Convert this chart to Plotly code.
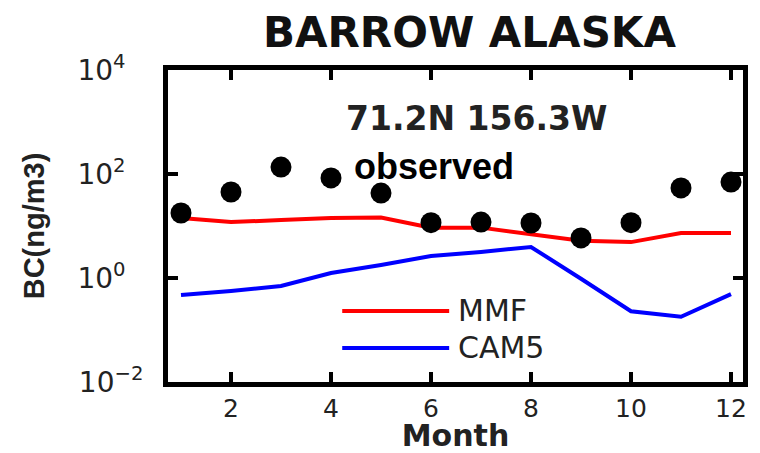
import plotly.graph_objects as go

# ---- data ----
months = list(range(1, 13))
observed = [17.8, 45, 136, 84, 43, 11.6, 11.9, 11.4, 5.9, 11.6, 54, 70]
mmf = [14.3, 11.9, 13.0, 14.3, 14.6, 9.3, 9.3, 7.0, 5.2, 4.9, 7.3, 7.3]
cam5 = [0.47, 0.56, 0.70, 1.25, 1.78, 2.65, 3.16, 3.95, 0.97, 0.23, 0.18, 0.49]

xtick_vals = [2, 4, 6, 8, 10, 12]
ytick_vals = [0.01, 1, 100, 10000]
ytick_text = ["10<sup>\u22122</sup>", "10<sup>0</sup>\u00a0\u00a0", "10<sup>2</sup>\u00a0\u00a0", "10<sup>4</sup>\u00a0\u00a0"]

title_text = "BARROW ALASKA"
site_text = "71.2N 156.3W"
obs_text = "observed"
legend_names = ["MMF", "CAM5"]
legend_colors = ["#ff0000", "#0000ff"]

fig = go.Figure()
fig.add_trace(go.Scatter(x=months, y=mmf, mode="lines", name="MMF",
                         line=dict(color="#ff0000", width=4), showlegend=False))
fig.add_trace(go.Scatter(x=months, y=cam5, mode="lines", name="CAM5",
                         line=dict(color="#0000ff", width=4), showlegend=False))
fig.add_trace(go.Scatter(x=months, y=observed, mode="markers", name="observed",
                         marker=dict(color="black", size=21, line=dict(width=0)),
                         showlegend=False))

L, R, T, B = 168, 17, 70, 71

fig.update_layout(
    width=760, height=453,
    margin=dict(l=L, r=R, t=T, b=B, autoexpand=False),
    paper_bgcolor="white", plot_bgcolor="white",
    font=dict(family="DejaVu Sans", color="black"),
    showlegend=False,
)

fig.update_xaxes(
    range=[0.74, 12.24], tickvals=xtick_vals, ticktext=[str(v) for v in xtick_vals],
    ticks="inside", ticklen=10, tickwidth=4, tickcolor="black",
    showline=True, linewidth=5, linecolor="black", mirror="ticks",
    showgrid=False, zeroline=False, ticklabelstandoff=0,
    tickfont=dict(family="DejaVu Sans", size=25, color="#222"),
    title=dict(text="<b>Month</b>", font=dict(family="DejaVu Sans", size=30, color="#222"), standoff=10),
)
fig.update_yaxes(
    type="log", range=[-2, 4], tickvals=ytick_vals, ticktext=ytick_text,
    ticks="inside", ticklen=10, tickwidth=4, tickcolor="black",
    showline=True, linewidth=5, linecolor="black", mirror="ticks",
    showgrid=False, zeroline=False, ticklabelstandoff=14,
    tickfont=dict(family="DejaVu Sans", size=28, color="#222"),
    title=dict(text="<b>BC(ng/m3)</b>", font=dict(family="Liberation Sans", size=29, color="#222"), standoff=26),
)

# annotations (texts)
fig.add_annotation(text="<b>" + title_text + "</b>", xref="paper", yref="paper",
                   x=0.525, y=1.12, xanchor="center", yanchor="middle", showarrow=False,
                   font=dict(family="DejaVu Sans", size=42, color="#111"))
fig.add_annotation(text="<b>" + site_text + "</b>", xref="paper", yref="paper",
                   x=0.536, y=0.846, xanchor="center", yanchor="middle", showarrow=False,
                   font=dict(family="DejaVu Sans", size=33, color="#222"))
fig.add_annotation(text="<b>" + obs_text + "</b>", xref="paper", yref="paper",
                   x=0.463, y=0.69, xanchor="center", yanchor="middle", showarrow=False,
                   font=dict(family="Liberation Sans", size=36, color="black"))

# custom legend (keys + labels)
leg_y = [0.2276, 0.109]
for name, col, yy in zip(legend_names, legend_colors, leg_y):
    fig.add_shape(type="line", xref="paper", yref="paper", x0=0.303, x1=0.489, y0=yy, y1=yy,
                  line=dict(color=col, width=4))
    fig.add_annotation(text=name, xref="paper", yref="paper", x=0.5, y=yy,
                       xanchor="left", yanchor="middle", showarrow=False,
                       font=dict(family="DejaVu Sans", size=30, color="#222"))

fig.write_html("out.html", config={"displayModeBar": False})

# remove the default page margin so the figure sits at the window's top-left corner
with open("out.html", "r", encoding="utf-8") as f:
    html = f.read()
html = html.replace("<body>", '<body style="margin:0;">', 1)
with open("out.html", "w", encoding="utf-8") as f:
    f.write(html)
